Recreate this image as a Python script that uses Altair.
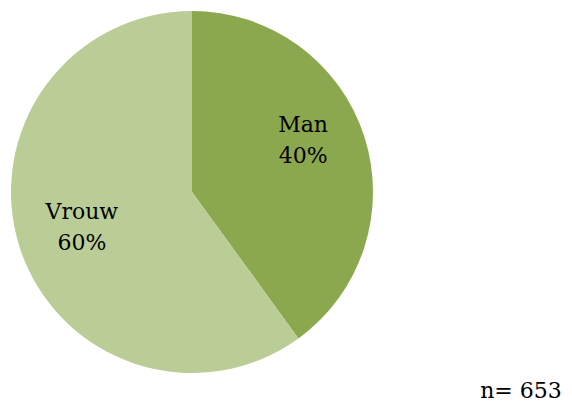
import altair as alt
import pandas as pd
import math

categories = ["Man", "Vrouw"]
values = [40, 60]
labels = ["Man\n40%", "Vrouw\n60%"]
colors = ["#8ba84f", "#bbcd97"]
note = "n= 653"

df = pd.DataFrame({"cat": categories, "val": values, "label": labels, "ord": [0, 1]})

CX, CY = 184, 184

pie = alt.Chart(df).mark_arc(outerRadius=181).encode(
    theta=alt.Theta("val:Q", stack=True),
    order=alt.Order("ord:Q"),
    x=alt.value(CX),
    y=alt.value(CY),
    color=alt.Color("cat:N", scale=alt.Scale(domain=categories, range=colors), legend=None),
)

lbl_base = alt.Chart(df).transform_window(
    cum="sum(val)", sort=[alt.SortField("ord")]
).transform_joinaggregate(
    total="sum(val)"
).transform_calculate(
    mid="(datum.cum - datum.val / 2) / datum.total"
).encode(
    theta=alt.Theta("mid:Q", stack=None, scale=alt.Scale(domain=[0, 1], range=[0, 2 * math.pi])),
    x=alt.value(CX),
    y=alt.value(CY),
    text="label:N",
)

txt_style = dict(font="DejaVu Serif", fontSize=22, lineBreak="\n", lineHeight=31,
                 color="black", baseline="middle", align="center", radius=120)

text_man = lbl_base.mark_text(dx=-3, dy=-30, **txt_style).transform_filter(alt.datum.cat == "Man")
text_vrouw = lbl_base.mark_text(dx=4, dy=-17, **txt_style).transform_filter(alt.datum.cat == "Vrouw")

n_text = alt.Chart(pd.DataFrame({"t": [note]})).mark_text(
    font="DejaVu Serif", fontSize=22, color="black", align="center", baseline="middle"
).encode(text="t:N", x=alt.value(513), y=alt.value(383))

chart = alt.layer(pie, text_man, text_vrouw, n_text).resolve_scale(
    theta="independent"
).properties(
    width=556, height=404, padding=0, autosize=alt.AutoSizeParams(type="none")
).configure_view(stroke=None)

chart.save("out.html", embed_options={"renderer": "svg", "actions": False})
